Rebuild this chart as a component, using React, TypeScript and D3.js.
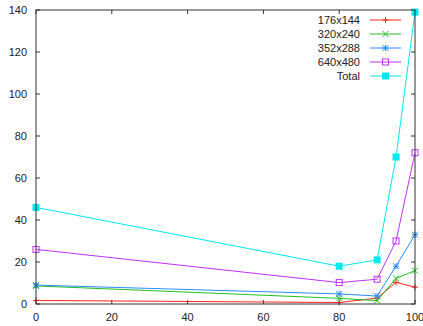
import React from 'react';
import * as d3 from 'd3';

// x positions (percent) shared by every series
const xValues = [0, 80, 90, 95, 100];

const seriesNames = ['176x144', '320x240', '352x288', '640x480', 'Total'];
const seriesColors = ['#ff2020', '#20c020', '#2a8cff', '#c030ff', '#00e8f0'];
const seriesMarkers = ['plus', 'cross', 'star', 'openSquare', 'filledSquare'];

const values176 = [1.7, 0.7, 2.8, 10.3, 8];
const values320 = [8.6, 2.7, 1.6, 12.2, 15.9];
const values352 = [9, 4.8, 3.8, 18, 33];
const values640 = [26, 10.2, 11.8, 30, 72];
const valuesTotal = [46, 18, 21, 70, 139];
const allValues = [values176, values320, values352, values640, valuesTotal];

const xTicks = [0, 20, 40, 60, 80, 100];
const yTicks = [0, 20, 40, 60, 80, 100, 120, 140];

const Marker = ({ type, x, y, color }) => {
  const s = 3;
  if (type === 'plus') {
    return <path d={`M${x - s},${y}H${x + s}M${x},${y - s}V${y + s}`} stroke={color} strokeWidth={1} />;
  }
  if (type === 'cross') {
    return <path d={`M${x - s},${y - s}L${x + s},${y + s}M${x - s},${y + s}L${x + s},${y - s}`} stroke={color} strokeWidth={1} />;
  }
  if (type === 'star') {
    return <path d={`M${x - s},${y}H${x + s}M${x},${y - s}V${y + s}M${x - s},${y - s}L${x + s},${y + s}M${x - s},${y + s}L${x + s},${y - s}`} stroke={color} strokeWidth={1} />;
  }
  if (type === 'openSquare') {
    return <rect x={x - s} y={y - s} width={s * 2} height={s * 2} fill="none" stroke={color} strokeWidth={1} />;
  }
  return <rect x={x - s} y={y - s} width={s * 2} height={s * 2} fill={color} stroke={color} strokeWidth={1} />;
};

const App = () => {
  const width = 423;
  const height = 326;
  // plot area
  const margin = { top: 10, right: 8, bottom: 22, left: 36 };
  const plotW = width - margin.left - margin.right;
  const plotH = height - margin.top - margin.bottom;

  const xScale = d3.scaleLinear().domain([0, 100]).range([margin.left, margin.left + plotW]);
  const yScale = d3.scaleLinear().domain([0, 140]).range([margin.top + plotH, margin.top]);

  const line = d3
    .line<number>()
    .x((d, i) => xScale(xValues[i]))
    .y((d) => yScale(d));

  const tickLen = 4;
  const axisColor = '#333';
  const font = 'Arial, "Liberation Sans", sans-serif';

  return (
    <svg width={width} height={height} style={{ position: 'absolute', left: 0, top: 0, background: '#fff' }}>
      {/* ticks, mirrored on opposite sides */}
      {yTicks.map((t) => (
        <g key={'y' + t}>
          <line x1={margin.left} x2={margin.left + tickLen} y1={yScale(t)} y2={yScale(t)} stroke={axisColor} />
          <line x1={margin.left + plotW} x2={margin.left + plotW - tickLen} y1={yScale(t)} y2={yScale(t)} stroke={axisColor} />
          <text x={margin.left - 9} y={yScale(t)} dy="0.35em" textAnchor="end" fontSize={11} fontFamily={font} fill="#222">
            {t}
          </text>
        </g>
      ))}
      {xTicks.map((t) => (
        <g key={'x' + t}>
          <line x1={xScale(t)} x2={xScale(t)} y1={margin.top + plotH} y2={margin.top + plotH - tickLen} stroke={axisColor} />
          <line x1={xScale(t)} x2={xScale(t)} y1={margin.top} y2={margin.top + tickLen} stroke={axisColor} />
          <text x={xScale(t)} y={margin.top + plotH + 17} textAnchor="middle" fontSize={11} fontFamily={font} fill="#222">
            {t}
          </text>
        </g>
      ))}

      {/* series */}
      {allValues.map((vals, si) => (
        <g key={seriesNames[si]}>
          <path d={line(vals)} fill="none" stroke={seriesColors[si]} strokeWidth={1} />
          {vals.map((v, i) => (
            <Marker key={i} type={seriesMarkers[si]} x={xScale(xValues[i])} y={yScale(v)} color={seriesColors[si]} />
          ))}
        </g>
      ))}

      {/* legend */}
      {seriesNames.map((name, i) => {
        const ly = 20 + i * 14;
        return (
          <g key={'leg' + name}>
            <text x={360} y={ly} dy="0.35em" textAnchor="end" fontSize={11} fontFamily={font} fill="#222">
              {name}
            </text>
            <line x1={370} x2={401} y1={ly} y2={ly} stroke={seriesColors[i]} strokeWidth={1} />
            <Marker type={seriesMarkers[i]} x={385.5} y={ly} color={seriesColors[i]} />
          </g>
        );
      })}

      {/* frame */}
      <rect x={margin.left} y={margin.top} width={plotW} height={plotH} fill="none" stroke={axisColor} strokeWidth={1} />
    </svg>
  );
};

export default App;
